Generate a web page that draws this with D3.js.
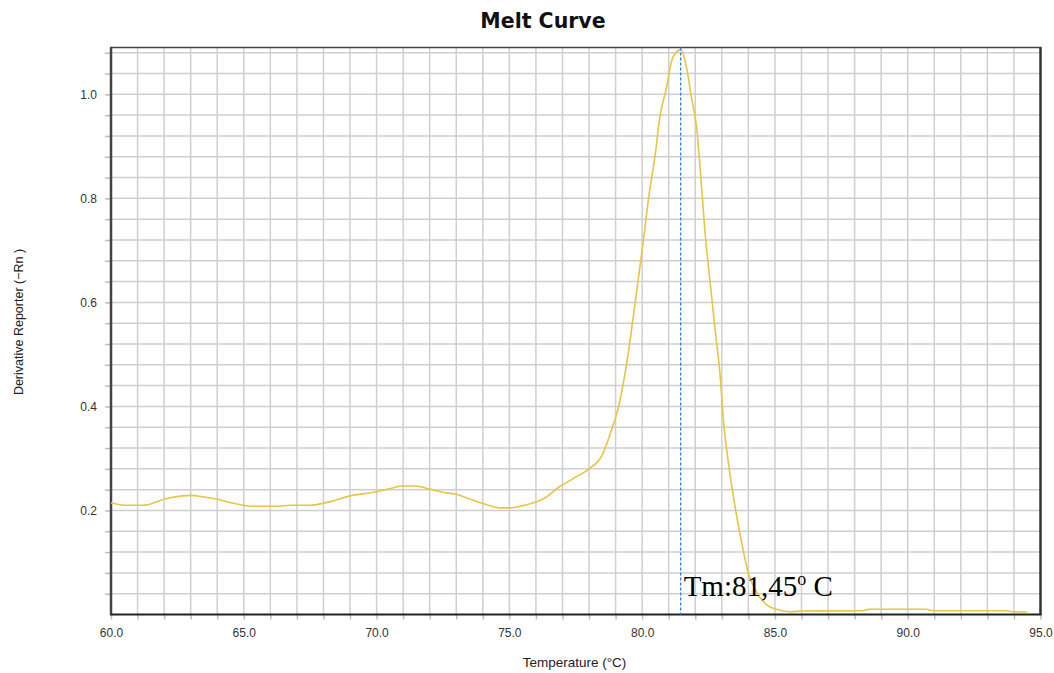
<!DOCTYPE html>
<html>
<head>
<meta charset="utf-8">
<script src="https://cdn.jsdelivr.net/npm/d3@7"></script>
<style>
  html, body { margin: 0; padding: 0; background: #ffffff; }
  svg { display: block; }
</style>
</head>
<body>
<svg id="chart" width="1054" height="673"></svg>
<script>
// Melt curve: derivative reporter (−Rn) against temperature (°C)
const temperatures = [60.0, 60.6, 61.2, 62.1, 63.0, 63.5, 64.0, 64.6, 65.35, 66.25, 66.75, 67.5, 68.0, 68.25,
  69.0, 69.9, 70.6, 70.9, 71.45, 72.0, 72.5, 73.0, 73.5, 74.15, 74.65, 75.0, 75.65, 76.3, 76.9, 77.5, 78.0,
  78.5, 78.85, 79.1, 79.4, 79.6, 79.85, 80.05, 80.25, 80.5, 80.65, 80.9, 81.15, 81.45, 81.7, 81.85, 82.05,
  82.2, 82.35, 82.55, 82.75, 82.95, 83.05, 83.25, 83.5, 83.75, 84.0, 84.3, 84.7, 85.05, 85.55, 86.0, 88.3,
  88.55, 90.7, 90.95, 93.7, 93.95, 94.5];
const derivative = [0.215, 0.210, 0.210, 0.223, 0.229, 0.226, 0.2215, 0.214, 0.208, 0.208, 0.210, 0.210, 0.214, 0.217,
  0.228, 0.235, 0.243, 0.247, 0.247, 0.241, 0.235, 0.231, 0.222, 0.211, 0.205, 0.205, 0.211, 0.223, 0.246, 0.264, 0.280,
  0.307, 0.355, 0.397, 0.477, 0.547, 0.643, 0.720, 0.803, 0.887, 0.951, 1.009, 1.070, 1.086, 1.044, 0.996, 0.938,
  0.848, 0.746, 0.643, 0.547, 0.451, 0.380, 0.291, 0.207, 0.137, 0.079, 0.044, 0.018, 0.010, 0.0054, 0.0067, 0.0073,
  0.010, 0.010, 0.0073, 0.0073, 0.0054, 0.0048];

const meltTemp = 81.45;
const meltLabel = "Tm:81,45";
const xTicks = d3.range(0, 36).map(i => 60 + i);          // one tick per degree
const yTicks = d3.range(1, 28).map(i => +(i * 0.04).toFixed(2)); // one tick per 0.04
const xDomain = [60, 95];
const yDomain = [0, 1.09];

const titleText = "Melt Curve";
const xTitle = "Temperature (°C)";
const yTitle = "Derivative Reporter (−Rn )";

const svg = d3.select("#chart");
const plotLeft = 111, plotRight = 1040.5, plotTop = 47.5, plotBottom = 614.5;

const x = d3.scaleLinear().domain(xDomain).range([plotLeft, plotRight]);
const y = d3.scaleLinear().domain(yDomain).range([plotBottom, plotTop]);

svg.append("rect").attr("width", 1054).attr("height", 673).attr("fill", "#ffffff");

// grid
const grid = svg.append("g").attr("stroke", "#cfcfcf").attr("stroke-width", 1.5);
grid.selectAll("line.v").data(xTicks.filter(t => t > xDomain[0] && t < xDomain[1])).join("line")
  .attr("class", "v")
  .attr("x1", d => x(d)).attr("x2", d => x(d))
  .attr("y1", plotTop).attr("y2", plotBottom);
grid.selectAll("line.h").data(yTicks).join("line")
  .attr("class", "h")
  .attr("x1", plotLeft).attr("x2", plotRight)
  .attr("y1", d => y(d)).attr("y2", d => y(d));

// axes
const xAxis = d3.axisBottom(x)
  .tickValues(xTicks)
  .tickSize(5)
  .tickPadding(9)
  .tickFormat(d => (d % 5 === 0 ? d3.format(".1f")(d) : ""));
const gx = svg.append("g").attr("transform", `translate(0,${plotBottom})`).call(xAxis);

const yAxis = d3.axisLeft(y)
  .tickValues(yTicks)
  .tickSize(6)
  .tickPadding(8)
  .tickFormat(d => (Math.round(d * 100) % 20 === 0 ? d3.format(".1f")(d) : ""));
const gy = svg.append("g").attr("transform", `translate(${plotLeft},0)`).call(yAxis);

[gx, gy].forEach(g => {
  g.select(".domain").remove();
  g.selectAll(".tick line").attr("stroke", "#bdbdbd").attr("stroke-width", 1.5);
  g.selectAll(".tick text")
    .attr("fill", "#333333")
    .style("font-family", "'Liberation Sans', Arial, sans-serif")
    .style("font-size", "12px");
});

// frame
const frame = svg.append("g").attr("fill", "none");
frame.append("line").attr("x1", plotLeft - 1).attr("x2", plotRight + 1).attr("y1", plotTop).attr("y2", plotTop)
  .attr("stroke", "#444444").attr("stroke-width", 1.5);
frame.append("line").attr("x1", plotRight).attr("x2", plotRight).attr("y1", plotTop).attr("y2", plotBottom)
  .attr("stroke", "#333333").attr("stroke-width", 2.5);
frame.append("line").attr("x1", plotLeft).attr("x2", plotLeft).attr("y1", plotTop).attr("y2", plotBottom + 1)
  .attr("stroke", "#444444").attr("stroke-width", 2.5);
frame.append("line").attr("x1", plotLeft).attr("x2", plotRight + 1).attr("y1", plotBottom).attr("y2", plotBottom)
  .attr("stroke", "#222222").attr("stroke-width", 2);

// melt curve
const points = temperatures.map((t, i) => [t, derivative[i]]);
const line = d3.line()
  .x(d => x(d[0]))
  .y(d => y(d[1]))
  .curve(d3.curveMonotoneX);
svg.append("path")
  .datum(points)
  .attr("fill", "none")
  .attr("stroke", "#e8c542")
  .attr("stroke-width", 1.6)
  .attr("stroke-linejoin", "round")
  .attr("d", line);

// Tm marker
svg.append("line")
  .attr("x1", x(meltTemp)).attr("x2", x(meltTemp))
  .attr("y1", y(yDomain[1])).attr("y2", y(0))
  .attr("stroke", "#2f7df5")
  .attr("stroke-width", 1.3)
  .attr("stroke-dasharray", "3,2");

const tm = svg.append("text")
  .attr("x", x(meltTemp) + 3)
  .attr("y", 596)
  .attr("fill", "#000000")
  .style("font-family", "'Liberation Serif', 'Times New Roman', serif")
  .style("font-size", "29px");
tm.append("tspan").text(meltLabel);
tm.append("tspan").attr("dy", -11).style("font-size", "18px").text("o");
tm.append("tspan").attr("dy", 11).text(" C");

// titles
svg.append("text")
  .attr("x", 543).attr("y", 28)
  .attr("text-anchor", "middle")
  .style("font-family", "'DejaVu Sans', Verdana, sans-serif")
  .style("font-weight", "bold")
  .style("font-size", "20.5px")
  .attr("fill", "#111111")
  .text(titleText);

svg.append("text")
  .attr("x", 574.5).attr("y", 667)
  .attr("text-anchor", "middle")
  .style("font-family", "'Liberation Sans', Arial, sans-serif")
  .style("font-size", "13.5px")
  .attr("fill", "#222222")
  .text(xTitle);

svg.append("text")
  .attr("transform", "translate(23,322) rotate(-90)")
  .attr("text-anchor", "middle")
  .style("font-family", "'Liberation Sans', Arial, sans-serif")
  .style("font-size", "12.5px")
  .attr("fill", "#222222")
  .text(yTitle);
</script>
</body>
</html>
